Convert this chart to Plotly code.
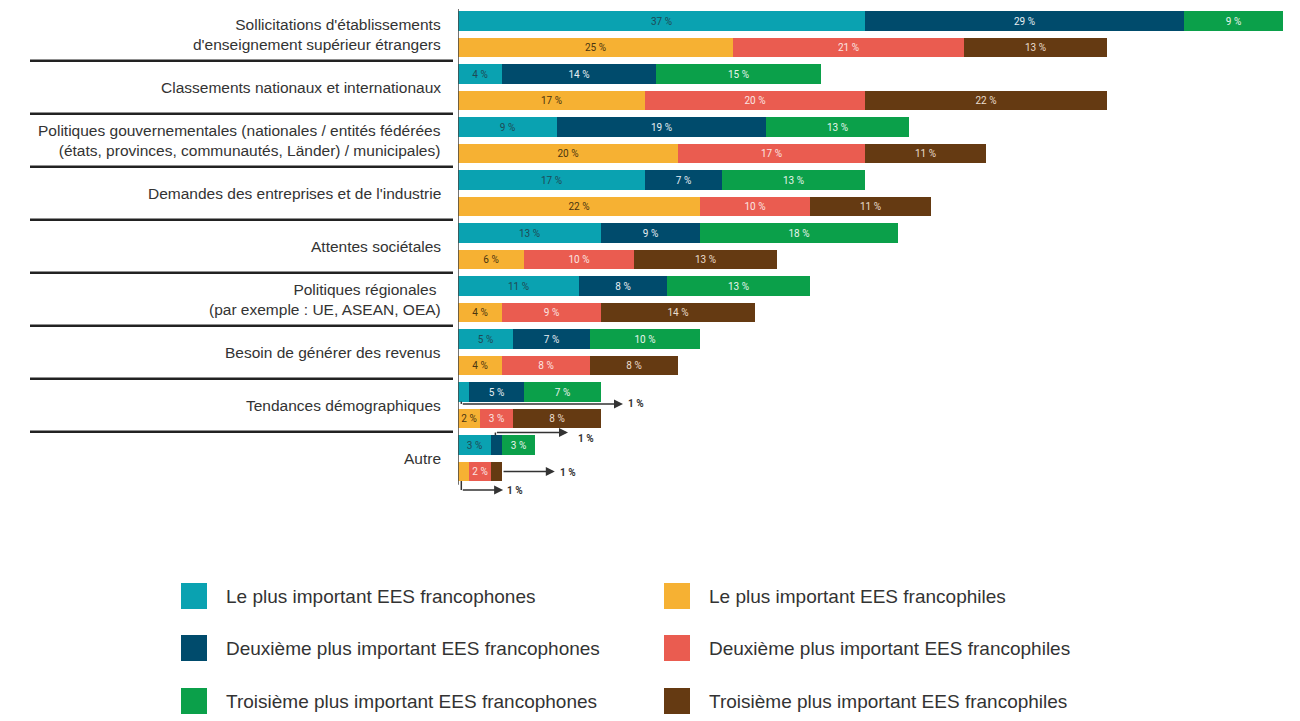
import plotly.graph_objects as go

# The page places the figure 8 px from the window's top-left corner
OFF = 8
W, H = 1300 - OFF, 721 - OFF

categories = [
    "Sollicitations d'établissements<br>d'enseignement supérieur étrangers",
    "Classements nationaux et internationaux",
    "Politiques gouvernementales (nationales / entités fédérées<br>(états, provinces, communautés, Länder) / municipales)",
    "Demandes des entreprises et de l'industrie",
    "Attentes sociétales",
    "Politiques régionales <br>(par exemple : UE, ASEAN, OEA)",
    "Besoin de générer des revenus",
    "Tendances démographiques",
    "Autre",
]

# Francophones (1st, 2nd, 3rd most important)
franco_1 = [37, 4, 9, 17, 13, 11, 5, 1, 3]
franco_2 = [29, 14, 19, 7, 9, 8, 7, 5, 1]
franco_3 = [9, 15, 13, 13, 18, 13, 10, 7, 3]
# Francophiles (1st, 2nd, 3rd most important)
phile_1 = [25, 17, 20, 22, 6, 4, 4, 2, 1]
phile_2 = [21, 20, 17, 10, 10, 9, 8, 3, 2]
phile_3 = [13, 22, 11, 11, 13, 14, 8, 8, 1]

series_names = [
    "Le plus important EES francophones",
    "Deuxième plus important EES francophones",
    "Troisième plus important EES francophones",
    "Le plus important EES francophiles",
    "Deuxième plus important EES francophiles",
    "Troisième plus important EES francophiles",
]
colors = ["#0aa2b1", "#004b6c", "#0ba04a", "#f6b133", "#ea5c50", "#653a12"]
text_colors = ["#1f4a55", "#e6eef2", "#e6f4ea", "#4a3510", "#fbe4e1", "#eadccc"]

n = len(categories)
y_franco = [2 * g for g in range(n)]
y_phile = [2 * g + 1 for g in range(n)]

series = [
    (franco_1, y_franco), (franco_2, y_franco), (franco_3, y_franco),
    (phile_1, y_phile), (phile_2, y_phile), (phile_3, y_phile),
]

fig = go.Figure()
for i, (vals, ys) in enumerate(series):
    fig.add_trace(go.Bar(
        x=vals, y=ys, orientation="h", name=series_names[i],
        marker=dict(color=colors[i], line=dict(width=0)),
        width=0.72,
        text=[f"{v} %" if v > 1 else "" for v in vals],
        textposition="inside", insidetextanchor="middle", textangle=0,
        textfont=dict(size=10, color=text_colors[i], family="Roboto"),
        showlegend=False, hoverinfo="skip",
    ))


def px_x(p):
    return (p - OFF) / W


def px_y(p):
    return (H - (p - OFF)) / H


px_per_pct = 11.0
x_left_px = 458
x_dom = [px_x(x_left_px), 1.0]
x_range = [0, (1300 - x_left_px) / px_per_pct]

# vertical mapping: row k drawn at pixel 21 + 26.5 k
row0_px, row_px = 21.0, 26.5
plot_top, plot_bot = 8, 503
y_dom = [px_y(plot_bot), px_y(plot_top)]
y_range = [(plot_bot - row0_px) / row_px, (plot_top - row0_px) / row_px]

shapes = []
annotations = []

# category labels and separators
for g, cat in enumerate(categories):
    annotations.append(dict(
        x=px_x(443), xref="paper", y=2 * g + 0.5, yref="y", text=cat,
        showarrow=False, xanchor="right", yanchor="middle", align="right",
        font=dict(size=15.5, color="#333333", family="Liberation Sans"),
    ))
for g in range(n - 1):
    shapes.append(dict(type="line", xref="paper", yref="y",
                       x0=px_x(30), x1=px_x(453), y0=2 * g + 1.5, y1=2 * g + 1.5,
                       line=dict(color="#222222", width=2.5)))

# vertical axis line
shapes.append(dict(type="line", xref="x", yref="y", x0=0, x1=0, y0=-0.45, y1=17.5,
                   line=dict(color="#444444", width=1.5)))

# call-out arrows for the 1 % segments: (x elbow, y bar edge, y line, x tip, label x, label y)
callouts = [
    (0.3, 14.36, 14.45, 15.0, 15.3, 14.45),
    (3.4, 15.64, 15.53, 10.0, 10.7, 15.75),
    (4.0, 17.0, 17.0, 8.8, 9.1, 17.05),
    (0.3, 17.36, 17.7, 4.1, 4.3, 17.72),
]
for xe, ye, yl, xt, lx, ly in callouts:
    if ye != yl:
        shapes.append(dict(type="line", xref="x", yref="y", x0=xe, x1=xe, y0=ye, y1=yl,
                           line=dict(color="#333333", width=1.5)))
    annotations.append(dict(x=xt, y=yl, xref="x", yref="y", ax=xe, ay=yl,
                            axref="x", ayref="y", text="", showarrow=True,
                            arrowhead=2, arrowsize=1.2, arrowwidth=1.5,
                            arrowcolor="#333333"))
    annotations.append(dict(x=lx, y=ly, xref="x", yref="y", text="<b>1 %</b>",
                            showarrow=False, xanchor="left", yanchor="middle",
                            font=dict(size=10, color="#333333", family="Roboto")))

# legend (two columns)
leg_rows_px = [596, 648, 701]
leg_cols = [(181, 224), (664, 707)]
sq = 26
for i, name in enumerate(series_names):
    col, row = divmod(i, 3)
    sx, tx = leg_cols[col]
    cy = leg_rows_px[row]
    shapes.append(dict(type="rect", xref="paper", yref="paper",
                       x0=px_x(sx), x1=px_x(sx + sq),
                       y0=px_y(cy + sq / 2), y1=px_y(cy - sq / 2),
                       fillcolor=colors[i], line=dict(width=0)))
    annotations.append(dict(x=px_x(tx), y=px_y(cy), xref="paper", yref="paper",
                            text=name, showarrow=False, xanchor="left", yanchor="middle",
                            font=dict(size=19, color="#333333", family="Liberation Sans")))

fig.update_layout(
    width=W, height=H, barmode="stack",
    margin=dict(l=0, r=0, t=0, b=0),
    paper_bgcolor="white", plot_bgcolor="white",
    xaxis=dict(domain=x_dom, range=x_range, visible=False, fixedrange=True),
    yaxis=dict(domain=y_dom, range=y_range, visible=False, fixedrange=True),
    shapes=shapes, annotations=annotations, bargap=0,
)

fig.write_html("out.html")
